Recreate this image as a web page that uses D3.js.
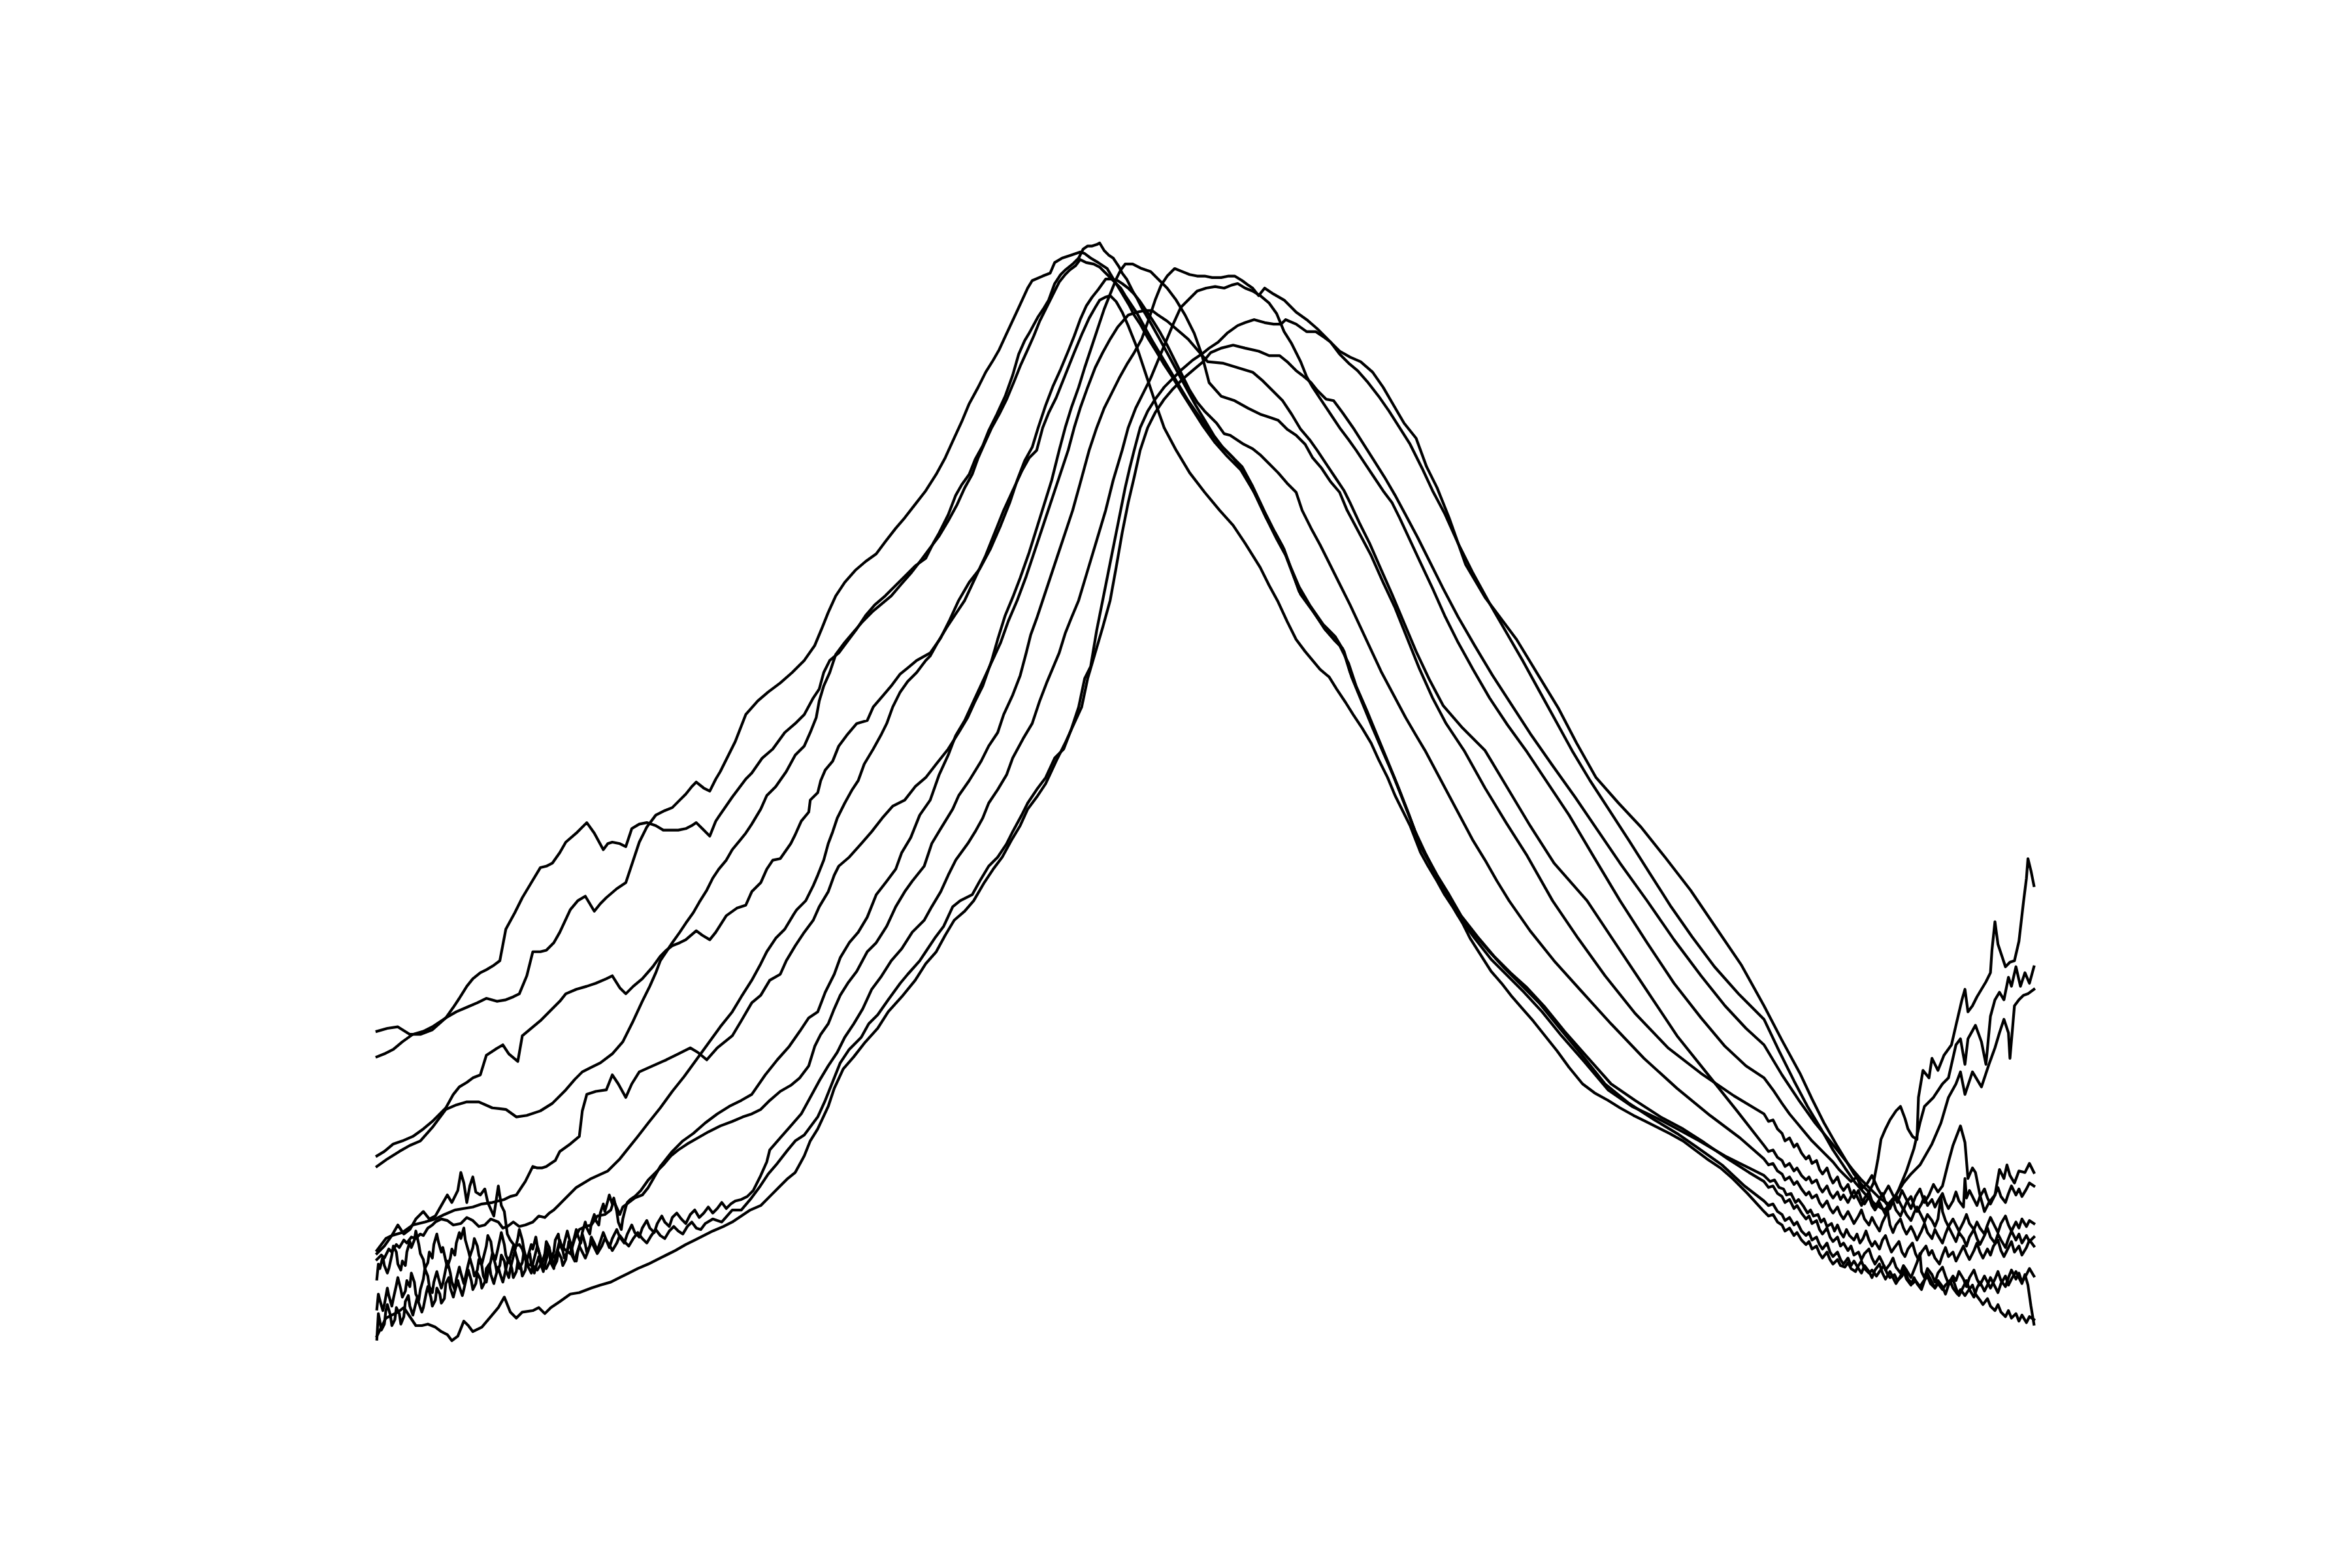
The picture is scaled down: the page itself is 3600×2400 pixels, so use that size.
<!DOCTYPE html>
<html><head><meta charset="utf-8">
<script src="https://cdn.jsdelivr.net/npm/d3@7"></script>
<style>html,body{margin:0;padding:0;background:#fff}</style>
</head><body>
<svg id="chart" width="3600" height="2400"></svg>
<script>
// Each trace: [channel, signal]
const L1 = [[1,196],[6,198],[12,201],[18,206],[25,211],[32,213],[38,216],[47,222],[54,226],[61,229],[68,232],[74,235],[81,233],[87,234],[92,236],[96,238],[101,250],[105,266],[110,266],[114,267],[119,272],[123,279],[130,294],[135,300],[140,303],[146,293],[150,298],[154,302],[161,308],[167,312],[172,327],[176,339],[181,349],[187,357],[193,360],[198,362],[203,367],[207,371],[211,376],[214,379],[219,375],[223,373],[227,381],[230,386],[235,396],[240,406],[247,424],[255,433],[262,439],[270,445],[278,452],[286,460],[293,470],[298,482],[302,492],[307,503],[313,512],[320,520],[327,526],[334,531],[340,539],[347,548],[353,555],[360,564],[367,573],[374,584],[380,595],[385,606],[391,619],[396,631],[402,642],[407,652],[412,660],[416,667],[422,680],[429,695],[435,708],[438,713],[445,716],[450,718],[453,725],[458,728],[464,730],[470,732],[473,731],[477,728],[482,725],[485,723],[488,721],[491,716],[494,711],[497,706],[500,701],[503,696],[506,690],[510,684],[515,675],[520,667],[526,657],[532,648],[538,638],[545,627],[552,616],[560,605],[568,596],[577,587],[586,572],[594,555],[600,545],[606,534],[611,520],[616,506],[624,495],[633,481],[640,473],[645,468],[650,452],[655,440],[662,424],[669,406],[676,390],[683,373],[690,355],[697,336],[703,325],[708,314],[715,302],[722,290],[733,275],[744,261],[755,250],[766,239],[778,226],[791,210],[806,193],[822,174],[838,163],[855,155],[870,147],[883,140],[900,130],[916,122],[926,117],[930,113],[933,114],[936,109],[939,108],[941,104],[944,105],[947,99],[949,101],[952,97],[955,92],[957,94],[959,90],[962,91],[964,86],[966,88],[968,83],[971,85],[973,80],[975,84],[977,79],[979,76],[981,81],[983,77],[986,74],[988,78],[990,72],[992,75],[994,80],[996,74],[998,70],[1000,73],[1003,68],[1005,74],[1007,77],[1009,71],[1011,66],[1013,69],[1016,73],[1018,66],[1020,63],[1022,68],[1025,72],[1027,65],[1029,61],[1031,66],[1034,70],[1036,64],[1038,67],[1040,62],[1043,58],[1045,64],[1047,69],[1049,63],[1052,66],[1054,60],[1056,64],[1059,70],[1061,65],[1063,61],[1066,67],[1068,72],[1070,66],[1072,62],[1075,68],[1077,64],[1079,70],[1082,74],[1084,67],[1086,63],[1089,69],[1091,73],[1093,66],[1096,70],[1098,64],[1101,69],[1103,74],[1106,70]];
const L2 = [[1,213],[8,215],[15,216],[23,211],[30,211],[38,214],[47,222],[52,229],[56,235],[61,243],[65,248],[70,252],[74,254],[79,257],[83,260],[87,281],[93,292],[98,302],[104,312],[110,322],[114,323],[118,325],[123,332],[127,339],[134,345],[141,352],[146,345],[152,334],[155,338],[158,339],[163,338],[167,336],[171,348],[176,351],[181,352],[187,350],[192,347],[196,347],[202,347],[207,348],[211,350],[214,352],[219,347],[223,343],[227,353],[229,356],[238,369],[247,381],[251,385],[258,395],[265,401],[273,412],[280,418],[286,424],[292,435],[296,441],[299,452],[303,460],[309,465],[315,473],[321,481],[327,490],[333,497],[340,503],[347,510],[354,517],[360,523],[367,528],[372,538],[376,545],[382,557],[387,570],[391,577],[396,584],[400,594],[405,603],[409,613],[414,623],[420,636],[425,650],[429,664],[433,673],[436,678],[442,689],[446,695],[449,700],[453,711],[457,717],[460,720],[465,724],[469,728],[472,734],[475,736],[478,736],[481,737],[483,738],[486,733],[489,730],[492,728],[494,725],[496,722],[498,718],[501,714],[505,706],[508,701],[511,695],[514,690],[518,683],[523,674],[529,663],[535,652],[541,641],[547,630],[553,620],[559,610],[565,602],[572,595],[579,585],[587,570],[595,553],[601,541],[607,530],[612,517],[617,504],[625,493],[634,480],[643,470],[649,458],[654,443],[661,427],[668,410],[675,393],[682,376],[689,358],[696,339],[702,328],[708,317],[716,304],[724,290],[735,276],[746,263],[757,252],[768,242],[780,229],[793,213],[808,196],[824,178],[840,167],[857,156],[872,148],[886,139],[902,128],[916,119],[926,113],[929,109],[932,110],[935,105],[938,103],[940,99],[943,101],[946,95],[948,97],[951,92],[954,88],[956,90],[958,85],[961,87],[963,81],[965,78],[968,82],[970,76],[972,73],[975,76],[977,70],[979,72],[982,67],[984,70],[986,64],[989,66],[991,61],[993,65],[996,68],[998,62],[1000,58],[1003,63],[1005,59],[1007,54],[1010,58],[1012,62],[1014,56],[1017,52],[1019,57],[1021,54],[1024,49],[1026,54],[1028,59],[1030,65],[1031,53],[1033,49],[1035,55],[1038,51],[1040,46],[1042,52],[1045,56],[1047,50],[1049,45],[1052,50],[1054,47],[1056,53],[1059,48],[1061,43],[1063,49],[1066,54],[1068,48],[1070,44],[1073,50],[1075,46],[1077,42],[1080,48],[1082,53],[1084,47],[1087,43],[1089,49],[1091,54],[1094,48],[1096,52],[1098,46],[1101,51],[1103,55],[1106,50]];
const L3 = [[1,123],[8,128],[16,133],[23,137],[30,140],[38,149],[47,161],[54,164],[61,166],[69,166],[78,162],[87,161],[94,156],[101,157],[110,160],[118,165],[127,174],[133,181],[138,186],[144,189],[150,192],[158,198],[165,206],[172,220],[178,233],[183,243],[187,252],[190,260],[194,266],[198,272],[203,279],[207,285],[212,292],[216,299],[221,307],[225,315],[229,321],[234,327],[238,334],[243,340],[247,345],[251,351],[257,361],[261,370],[267,376],[274,386],[280,397],[286,403],[290,412],[294,422],[296,433],[299,443],[303,452],[307,464],[313,472],[319,479],[325,486],[332,493],[338,498],[344,503],[350,510],[357,518],[364,527],[370,535],[376,543],[382,553],[388,564],[393,575],[398,584],[402,595],[406,604],[411,615],[416,624],[421,634],[426,646],[430,656],[435,667],[439,676],[443,686],[448,696],[453,706],[456,712],[460,717],[463,720],[467,723],[470,727],[474,725],[479,724],[483,722],[486,719],[489,716],[493,712],[497,708],[500,703],[504,697],[508,691],[513,682],[518,673],[524,663],[530,653],[536,643],[542,633],[549,623],[556,613],[563,604],[570,597],[578,589],[585,576],[593,559],[599,547],[605,536],[610,523],[616,509],[623,497],[632,484],[640,476],[646,466],[651,449],[658,432],[665,415],[672,399],[679,383],[686,365],[693,347],[700,332],[706,320],[713,308],[720,295],[730,281],[742,267],[753,255],[764,244],[776,232],[789,216],[804,198],[820,178],[836,165],[853,154],[868,145],[881,136],[898,124],[913,110],[926,100],[929,97],[932,98],[935,93],[938,91],[940,87],[943,89],[946,84],[948,86],[951,80],[954,77],[956,79],[958,74],[961,76],[963,71],[965,68],[968,72],[970,66],[972,63],[975,66],[977,61],[979,58],[982,62],[984,57],[986,60],[989,55],[991,52],[993,57],[996,53],[998,49],[1000,54],[1003,58],[1005,52],[1007,48],[1010,53],[1012,49],[1014,45],[1017,50],[1019,54],[1021,48],[1024,44],[1026,49],[1028,45],[1031,41],[1033,47],[1035,52],[1038,46],[1040,42],[1042,47],[1045,43],[1047,38],[1049,44],[1052,48],[1054,42],[1056,37],[1059,43],[1061,47],[1063,41],[1066,36],[1068,42],[1070,46],[1073,40],[1075,44],[1077,49],[1080,43],[1082,39],[1084,45],[1087,50],[1089,44],[1091,48],[1094,53],[1096,49],[1098,45],[1100,51],[1102,44],[1104,30],[1106,18]];
const L4 = [[1,130],[6,133],[12,138],[18,140],[25,143],[32,148],[38,153],[43,158],[47,162],[52,171],[56,176],[61,179],[65,182],[70,184],[74,197],[80,201],[85,204],[89,198],[95,193],[98,210],[104,215],[110,220],[114,224],[118,228],[123,233],[127,238],[134,241],[141,243],[147,245],[154,248],[158,250],[163,242],[167,238],[172,243],[178,248],[185,256],[190,263],[194,267],[198,270],[203,272],[207,274],[214,280],[218,277],[223,274],[227,279],[234,290],[241,295],[247,297],[251,306],[257,312],[261,321],[265,327],[270,328],[277,338],[280,344],[284,353],[289,359],[290,367],[295,372],[297,380],[300,387],[305,393],[309,403],[315,411],[321,418],[328,420],[332,429],[338,436],[344,443],[350,451],[355,455],[361,460],[370,465],[377,475],[383,487],[389,500],[396,512],[403,521],[410,534],[417,550],[423,565],[428,580],[433,593],[438,602],[442,615],[447,630],[452,643],[457,654],[462,666],[466,676],[470,687],[474,696],[478,702],[482,707],[487,714],[491,714],[495,713],[498,711],[502,708],[506,704],[510,699],[514,693],[518,687],[523,679],[528,670],[533,660],[538,650],[543,640],[548,632],[553,626],[556,623],[561,618],[566,611],[570,610],[579,604],[585,601],[590,597],[596,591],[602,585],[608,578],[614,572],[618,560],[624,548],[630,537],[636,525],[643,511],[650,497],[657,482],[664,467],[671,452],[679,437],[687,422],[694,410],[700,400],[708,385],[716,370],[724,355],[732,340],[740,327],[748,313],[756,300],[770,280],[786,260],[804,240],[824,218],[846,195],[868,175],[890,157],[910,142],[926,128],[929,124],[932,125],[935,120],[938,118],[940,114],[943,116],[946,111],[948,113],[951,108],[954,104],[956,106],[958,102],[961,104],[963,99],[965,96],[968,100],[970,95],[972,92],[975,96],[977,91],[979,88],[982,93],[984,89],[986,85],[989,90],[991,94],[993,88],[996,84],[998,89],[1000,85],[1003,80],[1005,86],[1007,90],[1008,96],[1010,84],[1012,79],[1014,84],[1017,88],[1019,82],[1021,78],[1024,83],[1026,79],[1028,74],[1031,80],[1033,85],[1035,79],[1038,75],[1040,81],[1042,77],[1045,72],[1047,78],[1049,83],[1052,77],[1054,73],[1056,79],[1059,75],[1061,70],[1063,76],[1066,81],[1068,75],[1070,71],[1073,77],[1075,82],[1077,76],[1080,72],[1082,78],[1084,74],[1087,69],[1089,75],[1091,80],[1094,74],[1096,78],[1098,72],[1101,77],[1103,73],[1106,76]];
const L5 = [[1,61],[4,64],[6,62],[9,68],[11,66],[14,71],[16,69],[19,74],[21,72],[24,76],[27,75],[30,78],[32,77],[35,82],[38,84],[40,86],[44,88],[48,87],[52,84],[57,85],[61,89],[65,87],[69,83],[73,84],[77,88],[82,86],[85,82],[88,83],[92,86],[96,83],[100,84],[105,86],[109,90],[113,89],[116,92],[119,94],[122,97],[125,100],[134,109],[144,115],[155,120],[163,128],[167,133],[175,143],[182,152],[190,162],[198,173],[206,183],[214,194],[222,205],[230,216],[238,226],[244,236],[251,247],[257,258],[261,266],[267,275],[273,281],[279,291],[281,294],[287,300],[292,310],[295,317],[299,327],[302,338],[305,346],[308,355],[313,365],[318,374],[322,380],[326,391],[332,401],[337,410],[341,418],[345,429],[350,439],[355,446],[361,452],[367,460],[370,463],[375,472],[381,482],[387,491],[393,500],[400,515],[407,530],[413,545],[419,560],[425,573],[431,586],[436,595],[441,600],[445,615],[449,625],[454,635],[460,650],[466,665],[471,677],[476,688],[480,695],[483,700],[487,702],[490,703],[494,699],[498,692],[502,683],[508,668],[514,650],[520,632],[526,615],[534,600],[543,585],[553,572],[563,560],[572,550],[580,538],[590,522],[596,510],[602,499],[608,486],[614,474],[620,466],[625,460],[630,454],[636,449],[641,441],[647,432],[652,424],[658,415],[664,405],[669,394],[675,382],[680,370],[685,360],[690,350],[697,332],[702,323],[708,313],[713,304],[719,295],[725,285],[730,275],[737,264],[744,253],[751,245],[758,236],[765,228],[772,220],[780,210],[788,200],[796,189],[805,178],[813,172],[822,167],[830,162],[839,157],[847,153],[855,149],[863,145],[872,140],[880,134],[888,128],[897,122],[905,115],[915,105],[926,93],[929,90],[932,91],[935,86],[938,84],[940,80],[943,82],[946,77],[948,79],[951,74],[954,71],[956,73],[958,68],[961,70],[963,65],[965,62],[968,66],[970,61],[972,58],[975,61],[977,57],[980,56],[982,59],[984,55],[987,53],[989,57],[991,60],[993,55],[996,52],[998,54],[1001,50],[1003,53],[1006,57],[1008,52],[1010,49],[1013,51],[1015,47],[1018,50],[1020,54],[1022,48],[1025,45],[1027,47],[1030,43],[1032,46],[1035,50],[1037,45],[1040,42],[1042,45],[1045,41],[1047,44],[1050,47],[1052,42],[1055,38],[1057,41],[1060,37],[1062,40],[1065,44],[1067,38],[1070,34],[1072,31],[1075,35],[1077,30],[1080,27],[1082,31],[1084,26],[1087,23],[1089,27],[1091,22],[1094,25],[1096,20],[1098,24],[1101,19],[1103,23],[1106,21]];
const L6 = [[1,65],[6,70],[11,77],[18,79],[25,84],[33,86],[40,88],[46,91],[53,94],[59,95],[65,96],[71,98],[78,99],[86,101],[90,103],[94,104],[98,110],[100,113],[105,123],[108,122],[111,122],[114,123],[117,125],[120,127],[123,133],[130,138],[136,143],[138,160],[141,171],[147,173],[154,174],[158,184],[162,178],[167,169],[171,178],[176,186],[185,190],[194,194],[202,198],[210,202],[215,199],[221,194],[228,202],[238,210],[244,220],[251,232],[257,237],[263,247],[270,251],[274,260],[280,270],[286,279],[292,287],[296,296],[302,306],[306,317],[309,323],[316,329],[324,338],[331,346],[338,355],[345,363],[353,367],[360,376],[367,382],[374,391],[382,401],[389,412],[395,422],[400,433],[405,443],[411,460],[415,474],[420,490],[425,502],[430,515],[436,532],[441,548],[446,564],[451,580],[456,600],[460,615],[464,628],[469,642],[473,655],[478,670],[482,682],[486,694],[490,704],[494,714],[497,720],[500,724],[505,724],[511,721],[517,719],[522,714],[528,708],[534,700],[540,690],[546,678],[551,664],[556,645],[564,636],[573,633],[582,628],[590,624],[596,622],[602,620],[608,614],[614,610],[620,604],[625,595],[631,588],[637,579],[643,572],[648,560],[656,545],[664,530],[672,512],[680,495],[688,475],[696,455],[705,435],[714,418],[726,400],[740,375],[754,352],[768,330],[785,300],[802,275],[820,250],[840,225],[862,202],[884,185],[906,170],[926,158],[929,153],[932,154],[935,148],[938,145],[940,140],[943,142],[946,136],[948,138],[951,132],[954,128],[956,130],[958,125],[961,127],[963,121],[965,118],[968,122],[970,116],[972,112],[975,116],[977,110],[979,107],[982,111],[984,105],[986,102],[989,107],[991,101],[993,98],[996,103],[998,97],[1000,94],[1003,99],[1005,95],[1007,91],[1010,96],[1012,100],[1014,94],[1017,90],[1019,95],[1021,91],[1024,87],[1026,92],[1028,96],[1031,90],[1033,86],[1035,91],[1038,87],[1040,83],[1042,88],[1044,103],[1045,93],[1047,87],[1049,83],[1052,88],[1054,84],[1056,80],[1059,86],[1061,91],[1063,85],[1066,81],[1068,86],[1070,82],[1073,78],[1075,84],[1077,89],[1080,83],[1082,79],[1084,85],[1087,90],[1089,84],[1091,80],[1094,86],[1096,82],[1098,88],[1101,83],[1103,87],[1106,85]];
const L7 = [[1,67],[7,75],[11,77],[15,84],[19,78],[23,81],[27,88],[32,93],[36,88],[40,90],[44,97],[48,104],[51,99],[55,107],[57,119],[59,112],[61,99],[63,110],[65,116],[67,106],[70,104],[73,108],[75,99],[79,90],[82,110],[84,97],[86,93],[88,78],[90,74],[93,70],[96,71],[98,68],[101,58],[105,57],[108,54],[111,59],[114,55],[117,61],[121,65],[123,72],[126,68],[130,65],[133,75],[136,81],[140,83],[144,84],[148,90],[153,91],[157,94],[159,100],[163,91],[165,96],[169,99],[173,102],[178,104],[182,109],[186,116],[190,123],[194,128],[198,133],[205,140],[212,145],[220,152],[228,158],[236,163],[244,167],[251,171],[260,184],[268,194],[276,203],[283,213],[289,222],[295,226],[300,239],[306,251],[310,262],[316,272],[322,279],[328,289],[334,304],[341,313],[347,321],[351,332],[357,342],[363,357],[370,367],[376,384],[382,397],[387,410],[393,420],[399,433],[405,446],[411,459],[417,472],[422,486],[428,500],[434,516],[440,534],[446,552],[452,570],[457,585],[462,600],[466,615],[470,628],[475,642],[480,655],[485,665],[490,674],[495,682],[502,690],[508,692],[513,693],[518,693],[522,690],[528,686],[535,680],[542,674],[548,667],[555,659],[565,658],[575,655],[585,652],[592,646],[599,639],[605,633],[611,624],[617,614],[623,607],[628,600],[634,591],[640,582],[646,573],[650,565],[656,552],[663,538],[670,522],[678,504],[686,485],[694,466],[703,447],[712,430],[725,415],[740,400],[755,375],[770,350],[786,325],[808,300],[828,270],[848,240],[868,210],[888,185],[908,160],[926,137],[929,133],[932,134],[935,129],[938,127],[940,123],[943,125],[946,120],[948,122],[951,117],[954,114],[956,116],[958,112],[961,114],[963,109],[965,106],[968,110],[970,105],[972,102],[975,106],[977,101],[979,104],[982,99],[984,103],[986,107],[989,101],[991,97],[993,102],[996,106],[998,100],[1000,96],[1003,101],[1005,105],[1007,99],[1010,95],[1012,100],[1014,104],[1017,98],[1019,94],[1021,99],[1024,103],[1026,97],[1028,93],[1031,98],[1033,103],[1035,97],[1038,101],[1040,96],[1042,100],[1045,105],[1047,99],[1049,95],[1052,100],[1054,106],[1056,100],[1059,96],[1060,115],[1061,102],[1063,107],[1066,101],[1068,97],[1070,103],[1073,108],[1075,102],[1077,98],[1080,104],[1082,109],[1084,103],[1087,99],[1089,105],[1091,110],[1094,104],[1096,108],[1098,103],[1101,108],[1103,112],[1106,110]];
const L8 = [[1,48],[2,58],[3,55],[5,63],[6,57],[8,52],[9,55],[11,64],[12,70],[14,66],[15,58],[17,54],[18,60],[20,57],[21,66],[23,73],[24,69],[26,74],[27,80],[29,71],[30,65],[32,61],[33,55],[35,59],[36,66],[38,62],[39,71],[41,78],[42,73],[44,66],[45,69],[47,60],[48,56],[50,62],[51,68],[53,64],[54,72],[56,79],[57,75],[59,82],[60,74],[62,67],[63,63],[65,69],[66,75],[68,70],[69,64],[71,58],[72,62],[74,70],[75,77],[77,73],[78,66],[80,61],[81,65],[83,74],[84,79],[86,71],[87,64],[89,59],[90,63],[92,70],[93,67],[95,75],[96,81],[98,74],[99,68],[101,60],[102,64],[104,71],[105,68],[107,76],[108,70],[110,63],[111,58],[113,65],[114,73],[116,69],[117,62],[119,66],[120,74],[122,78],[123,71],[125,67],[126,72],[128,80],[129,76],[131,69],[132,73],[134,81],[135,77],[137,72],[138,79],[140,86],[141,82],[143,78],[144,85],[146,91],[147,87],[149,84],[150,92],[152,98],[153,93],[155,100],[156,104],[158,98],[159,102],[161,93],[162,86],[164,81],[165,88],[167,96],[168,99],[170,101],[173,103],[177,107],[182,114],[187,119],[192,124],[197,130],[202,134],[208,138],[215,142],[222,146],[230,150],[238,153],[245,156],[251,158],[257,161],[263,167],[270,173],[277,177],[283,182],[289,190],[293,203],[297,211],[302,218],[306,228],[310,237],[315,245],[321,253],[328,266],[334,272],[341,283],[347,296],[353,306],[358,313],[366,323],[371,338],[377,348],[385,361],[389,370],[396,380],[404,393],[409,403],[415,412],[419,424],[425,437],[430,450],[434,465],[437,477],[441,488],[445,500],[450,515],[455,530],[460,545],[465,560],[470,578],[476,600],[481,615],[486,628],[491,638],[496,648],[501,657],[506,665],[511,674],[516,688],[520,700],[524,710],[528,716],[533,721],[538,719],[543,717],[548,716],[553,716],[558,715],[564,715],[569,716],[573,716],[578,713],[582,710],[585,708],[589,703],[593,708],[599,704],[606,700],[614,692],[621,687],[628,681],[636,673],[643,666],[650,662],[657,659],[665,652],[672,642],[679,630],[686,618],[694,608],[701,589],[708,575],[716,555],[727,524],[740,502],[761,474],[775,451],[789,428],[801,405],[814,382],[829,365],[844,349],[860,329],[877,307],[894,282],[911,257],[926,230],[938,207],[950,185],[958,168],[966,152],[974,138],[980,128],[986,118],[991,111],[996,106],[999,112],[1002,128],[1004,141],[1007,148],[1010,154],[1014,160],[1017,163],[1020,155],[1022,148],[1025,143],[1028,141],[1029,169],[1032,187],[1036,182],[1038,195],[1042,187],[1046,197],[1051,204],[1054,217],[1058,234],[1060,241],[1062,226],[1065,230],[1068,236],[1071,241],[1074,246],[1077,252],[1078,267],[1080,286],[1082,271],[1085,262],[1087,256],[1090,259],[1093,260],[1096,273],[1099,299],[1101,315],[1102,328],[1104,320],[1106,310]];
const L9 = [[1,28],[2,38],[3,34],[5,27],[6,31],[8,42],[9,37],[11,30],[12,35],[14,44],[15,49],[17,41],[18,36],[20,40],[21,47],[23,43],[24,52],[26,46],[27,38],[29,34],[30,41],[32,48],[33,55],[35,50],[36,43],[38,39],[39,46],[41,53],[42,49],[44,42],[45,45],[47,55],[48,60],[50,52],[51,46],[53,41],[54,48],[56,56],[57,52],[59,45],[60,49],[62,58],[63,62],[65,55],[66,50],[68,54],[69,61],[71,57],[72,50],[74,46],[75,52],[77,60],[78,65],[80,58],[81,53],[83,57],[84,64],[86,60],[87,54],[89,49],[90,55],[92,63],[93,67],[95,60],[96,55],[98,59],[99,66],[101,62],[102,56],[104,52],[105,58],[107,66],[108,70],[110,63],[111,58],[113,62],[114,69],[116,65],[117,59],[119,55],[120,62],[122,70],[123,74],[125,67],[126,62],[128,66],[129,73],[131,69],[132,63],[134,60],[135,66],[137,74],[138,78],[140,71],[141,66],[143,70],[144,76],[146,72],[148,67],[150,73],[152,79],[154,74],[156,69],[158,75],[161,81],[163,76],[166,72],[168,78],[171,84],[173,79],[176,76],[178,82],[181,87],[183,82],[186,79],[188,85],[191,90],[193,86],[196,83],[198,89],[201,92],[204,88],[207,85],[210,91],[213,94],[216,89],[219,92],[222,96],[225,92],[228,95],[231,99],[234,95],[237,98],[240,100],[244,101],[248,103],[252,107],[257,117],[261,126],[263,134],[270,142],[277,150],[284,158],[290,169],[296,180],[302,190],[308,199],[313,209],[319,218],[325,228],[331,241],[337,249],[344,260],[351,268],[358,279],[366,287],[371,296],[377,306],[382,317],[387,327],[395,338],[400,346],[405,355],[409,365],[415,374],[421,384],[425,395],[432,408],[438,418],[443,433],[448,446],[456,465],[460,478],[464,488],[469,500],[475,520],[481,540],[487,560],[492,580],[498,600],[502,615],[507,628],[512,638],[517,648],[522,660],[527,672],[532,684],[537,695],[542,700],[548,706],[554,708],[560,709],[566,708],[571,710],[575,711],[580,708],[585,706],[590,703],[596,698],[601,691],[606,679],[611,671],[617,659],[621,649],[625,642],[631,633],[637,624],[643,615],[649,607],[654,600],[660,591],[666,582],[672,573],[678,565],[683,555],[690,540],[697,525],[705,508],[713,490],[722,472],[732,454],[743,435],[755,417],[768,399],[782,378],[796,357],[812,330],[830,300],[848,272],[866,245],[884,222],[900,203],[914,190],[926,182],[932,174],[938,165],[943,158],[948,152],[953,146],[958,140],[963,135],[968,130],[972,126],[976,121],[980,117],[984,113],[988,116],[991,108],[995,112],[998,117],[1002,108],[1005,103],[1009,110],[1012,104],[1015,99],[1018,107],[1021,101],[1024,95],[1027,103],[1030,108],[1033,99],[1036,104],[1039,111],[1042,106],[1045,110],[1049,126],[1052,137],[1057,150],[1060,139],[1062,115],[1065,122],[1067,119],[1070,104],[1073,93],[1076,99],[1080,104],[1083,121],[1086,115],[1088,124],[1090,117],[1093,112],[1096,120],[1100,119],[1103,125],[1106,119]];
const L10 = [[1,8],[2,25],[3,20],[4,14],[6,18],[7,27],[8,31],[10,24],[11,17],[13,21],[14,29],[16,25],[17,18],[19,23],[20,33],[22,37],[23,30],[25,24],[26,28],[28,36],[29,32],[31,26],[32,29],[34,39],[35,43],[37,36],[38,30],[40,34],[41,42],[43,38],[44,32],[46,35],[47,45],[49,49],[50,42],[52,36],[53,40],[55,47],[56,43],[58,37],[59,41],[61,50],[62,54],[64,47],[65,41],[67,45],[68,52],[70,48],[71,42],[73,46],[74,55],[76,58],[77,51],[79,45],[80,49],[82,56],[83,52],[85,46],[86,50],[88,59],[89,62],[91,55],[92,49],[94,53],[95,60],[97,56],[98,50],[100,54],[101,62],[103,65],[104,58],[106,52],[107,56],[109,63],[110,59],[112,53],[113,57],[115,65],[116,68],[118,61],[119,56],[121,60],[122,66],[124,62],[125,57],[127,61],[128,68],[130,71],[131,64],[133,60],[134,64],[136,70],[138,66],[140,62],[142,67],[144,73],[146,69],[148,65],[151,70],[153,75],[156,71],[158,67],[161,72],[163,77],[166,73],[169,70],[172,75],[175,79],[178,75],[181,72],[184,77],[187,81],[190,77],[193,75],[196,80],[199,83],[202,80],[205,78],[208,83],[211,86],[214,82],[217,81],[220,85],[225,88],[231,86],[238,94],[244,94],[250,101],[256,109],[262,118],[268,125],[275,134],[280,140],[286,144],[295,156],[300,167],[306,182],[310,192],[316,201],[324,209],[329,218],[335,224],[342,234],[350,245],[355,251],[363,260],[367,266],[373,275],[379,283],[385,296],[390,300],[398,304],[403,313],[409,323],[415,329],[421,338],[425,346],[431,357],[435,365],[441,374],[447,382],[453,395],[459,401],[464,414],[469,429],[473,448],[477,456],[481,480],[485,500],[490,525],[495,550],[500,575],[503,588],[506,600],[510,615],[515,626],[520,634],[526,642],[532,648],[538,654],[545,660],[551,664],[556,668],[562,672],[568,678],[575,683],[580,685],[586,687],[593,685],[599,684],[604,684],[607,687],[614,684],[621,679],[627,679],[633,675],[637,672],[643,664],[649,658],[655,653],[662,645],[669,636],[676,626],[683,615],[690,604],[698,588],[705,573],[713,558],[722,538],[732,518],[743,498],[754,479],[765,460],[776,440],[787,420],[798,400],[810,380],[823,360],[836,340],[850,318],[864,296],[878,276],[893,256],[909,238],[926,221],[936,200],[946,180],[955,163],[964,148],[972,134],[980,122],[987,112],[994,104],[1000,98],[1006,94],[1011,98],[1016,108],[1021,120],[1026,135],[1030,152],[1033,163],[1039,169],[1045,178],[1049,182],[1054,204],[1057,208],[1060,191],[1062,208],[1067,217],[1071,206],[1074,191],[1077,223],[1080,234],[1083,239],[1086,234],[1089,249],[1091,243],[1094,256],[1097,243],[1100,252],[1103,245],[1106,256]];
const L11 = [[1,10],[4,16],[7,22],[11,24],[15,26],[19,29],[23,23],[27,17],[31,17],[35,18],[40,16],[44,13],[48,11],[51,7],[55,10],[59,20],[62,17],[65,13],[71,16],[77,23],[82,29],[86,36],[90,26],[94,22],[98,26],[105,27],[109,29],[113,25],[117,29],[123,33],[130,38],[136,39],[144,42],[150,44],[157,46],[163,49],[169,52],[175,55],[182,58],[188,61],[194,64],[200,67],[207,71],[213,74],[219,77],[225,80],[232,83],[238,86],[244,90],[250,94],[257,97],[263,103],[269,109],[275,115],[280,119],[286,130],[290,140],[295,148],[302,163],[306,175],[312,188],[319,196],[326,205],[335,215],[342,226],[351,236],[360,247],[367,258],[374,266],[380,277],[386,287],[393,293],[399,300],[406,312],[412,321],[418,329],[424,340],[430,350],[435,361],[441,369],[447,378],[454,393],[460,405],[465,416],[471,429],[475,448],[480,465],[485,482],[490,500],[494,522],[498,545],[502,565],[506,582],[510,600],[515,615],[520,625],[526,634],[532,641],[539,648],[546,654],[552,659],[557,665],[564,668],[572,670],[580,668],[589,666],[596,663],[603,663],[608,659],[614,653],[618,650],[624,645],[628,640],[634,634],[639,633],[645,625],[652,615],[659,604],[666,593],[673,582],[680,570],[687,557],[695,542],[703,526],[712,508],[722,489],[733,470],[745,450],[758,430],[771,410],[785,390],[800,369],[815,347],[830,325],[848,300],[866,274],[884,250],[900,230],[914,215],[926,204],[938,184],[950,166],[960,152],[970,140],[978,130],[985,121],[991,114],[997,108],[1003,102],[1009,98],[1014,104],[1019,112],[1024,118],[1030,124],[1038,138],[1044,152],[1049,169],[1054,178],[1057,186],[1060,171],[1065,186],[1071,176],[1076,191],[1080,202],[1083,212],[1086,221],[1089,212],[1090,195],[1093,230],[1096,234],[1099,237],[1102,238],[1106,241]];

const series = [L1, L2, L3, L4, L5, L6, L7, L8, L9, L10, L11];

const W = 3600, H = 2400;
const svg = d3.select('#chart');
svg.append('rect').attr('width', W).attr('height', H).attr('fill', '#fff');

// axes box like a default figure (axis hidden), 5% data margins
const box = {left: 0.125 * W, right: 0.9 * W, top: 0.12 * H, bottom: 0.89 * H};
const pts = series.flat();
const [xmin, xmax] = d3.extent(pts, d => d[0]);
const [ymin, ymax] = d3.extent(pts, d => d[1]);
const mx = (xmax - xmin) * 0.05, my = (ymax - ymin) * 0.05;
const x = d3.scaleLinear().domain([xmin - mx, xmax + mx]).range([box.left, box.right]);
const y = d3.scaleLinear().domain([ymin - my, ymax + my]).range([box.bottom, box.top]);

const line = d3.line().x(d => x(d[0])).y(d => y(d[1]));

svg.append('g').selectAll('path').data(series).join('path')
  .attr('d', line)
  .attr('fill', 'none')
  .attr('stroke', '#000')
  .attr('stroke-width', 4.2)
  .attr('stroke-linejoin', 'round')
  .attr('stroke-linecap', 'square');
</script>
</body></html>
